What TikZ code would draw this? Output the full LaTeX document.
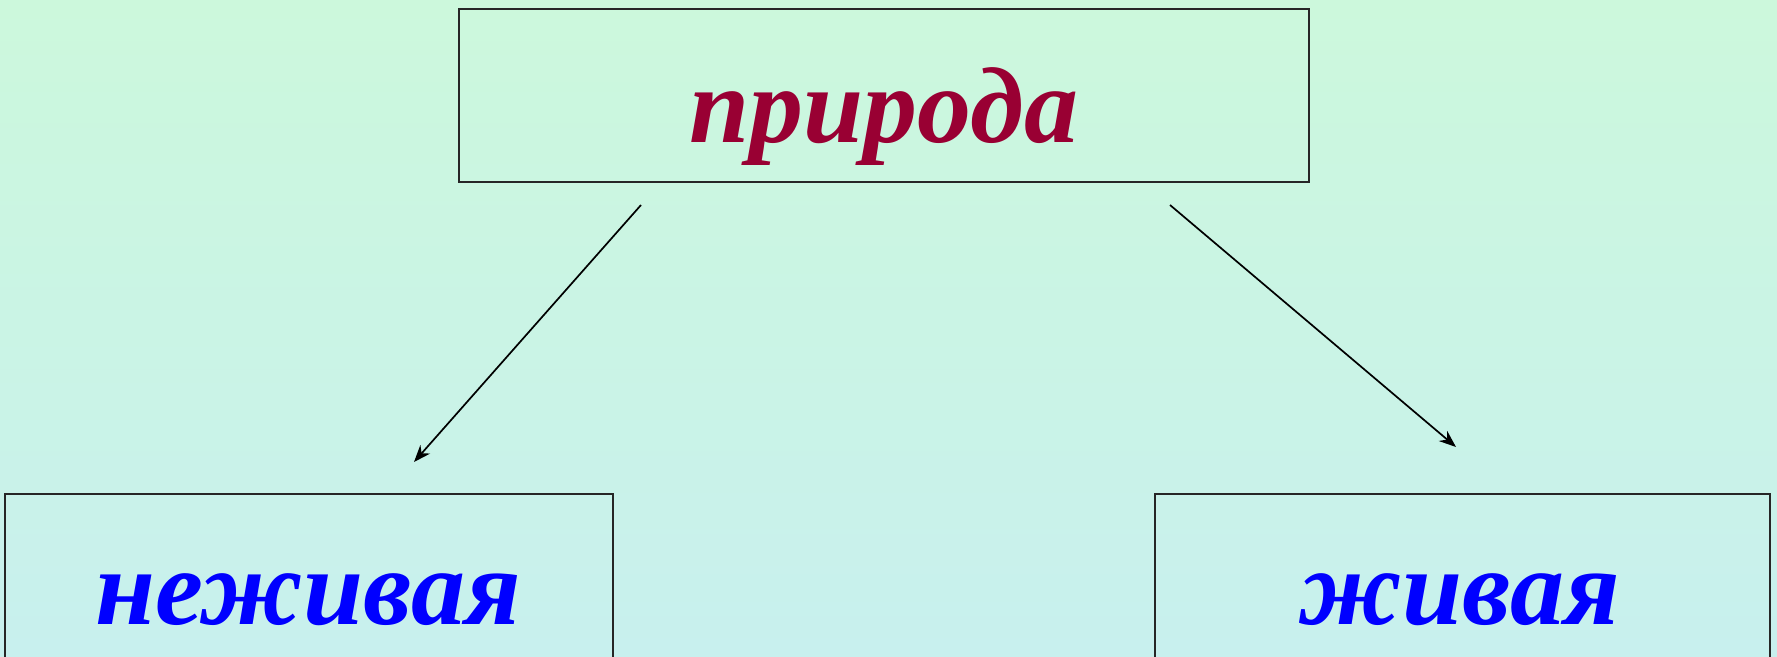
\documentclass[tikz,border=0pt]{standalone}
\usepackage{fontspec}
\setmainfont{Liberation Serif}
\usetikzlibrary{arrows.meta}
\definecolor{bgtop}{RGB}{204,248,220}
\definecolor{bgbot}{RGB}{200,240,238}
\definecolor{burg}{RGB}{153,0,51}
\definecolor{myblue}{RGB}{0,0,255}
\tikzset{
  box/.style={draw=black!85, line width=1.8pt},
  word/.style={anchor=base, inner sep=0pt, font=\fontsize{108}{108}\selectfont\bfseries\itshape},
  link/.style={line width=1.7pt, -{Stealth[length=17pt,width=13pt]}}
}
\begin{document}
\begin{tikzpicture}[x=1pt,y=-1pt]
\useasboundingbox (0,0) rectangle (1777,656);
\clip (0,0) rectangle (1777,656);
\shade[top color=bgtop, bottom color=bgbot] (0,0) rectangle (1777,656);
\draw[box] (459,9) rectangle (1309,182);
\draw[box] (5,494) rectangle (613,700);
\draw[box] (1155,494) rectangle (1770,700);
\node[word, text=burg] (top) at (884,142) {природа};
\node[word, text=myblue] (left) at (308,624) {неживая};
\node[word, text=myblue] (right) at (1460,624) {живая};
\coordinate (a1) at (641,205);
\coordinate (a2) at (414,462);
\coordinate (b1) at (1170,205);
\coordinate (b2) at (1456,447);
\draw[link] (a1) -- (a2);
\draw[link] (b1) -- (b2);
\end{tikzpicture}
\end{document}
